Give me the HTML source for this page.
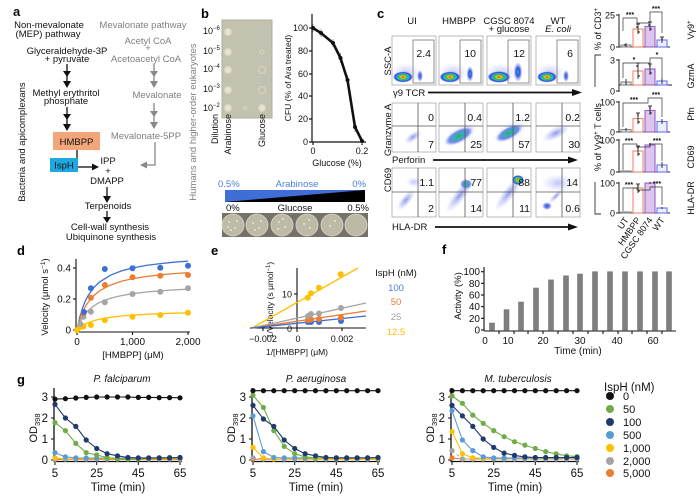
<!DOCTYPE html>
<html><head><meta charset="utf-8">
<style>
html,body{margin:0;padding:0;background:#fff;}
svg{display:block;font-family:"Liberation Sans",Arial,sans-serif;}
</style></head><body>
<svg width="700" height="504" viewBox="0 0 700 504" xmlns="http://www.w3.org/2000/svg">
<defs>
<radialGradient id="rb"><stop offset="0" stop-color="#e0221c"/><stop offset="0.2" stop-color="#f3c21d"/><stop offset="0.4" stop-color="#3fbf3f"/><stop offset="0.6" stop-color="#20b0d8"/><stop offset="0.8" stop-color="#3040d8"/><stop offset="1" stop-color="#5060e0" stop-opacity="0"/></radialGradient>
<radialGradient id="bl"><stop offset="0" stop-color="#2a50e0"/><stop offset="0.5" stop-color="#4a66e0" stop-opacity="0.8"/><stop offset="1" stop-color="#7080e8" stop-opacity="0"/></radialGradient>
<radialGradient id="bc"><stop offset="0" stop-color="#30b0d0"/><stop offset="0.4" stop-color="#3050e0"/><stop offset="1" stop-color="#7080e8" stop-opacity="0"/></radialGradient>
<radialGradient id="gb"><stop offset="0" stop-color="#38b048"/><stop offset="0.35" stop-color="#30b0c0"/><stop offset="0.7" stop-color="#4a60e0" stop-opacity="0.7"/><stop offset="1" stop-color="#8090f0" stop-opacity="0"/></radialGradient>
<radialGradient id="lb"><stop offset="0" stop-color="#6a78e0" stop-opacity="0.75"/><stop offset="1" stop-color="#a0a8f0" stop-opacity="0"/></radialGradient>
<radialGradient id="hz"><stop offset="0" stop-color="#b0b8f4" stop-opacity="0.8"/><stop offset="1" stop-color="#c8d0f8" stop-opacity="0"/></radialGradient>
<radialGradient id="spot"><stop offset="0" stop-color="#eeecd8"/><stop offset="0.7" stop-color="#dedcc6"/><stop offset="1" stop-color="#c2c1b0"/></radialGradient>
<marker id="gk" markerUnits="userSpaceOnUse" markerWidth="6" markerHeight="6" refX="3" refY="3"><circle cx="3" cy="3" r="2.6" fill="#111"/></marker>
<marker id="gg" markerUnits="userSpaceOnUse" markerWidth="6" markerHeight="6" refX="3" refY="3"><circle cx="3" cy="3" r="2.6" fill="#70ad47"/></marker>
<marker id="gn" markerUnits="userSpaceOnUse" markerWidth="6" markerHeight="6" refX="3" refY="3"><circle cx="3" cy="3" r="2.6" fill="#203a6c"/></marker>
<marker id="gl" markerUnits="userSpaceOnUse" markerWidth="6" markerHeight="6" refX="3" refY="3"><circle cx="3" cy="3" r="2.6" fill="#5b9bd5"/></marker>
<marker id="gy" markerUnits="userSpaceOnUse" markerWidth="6" markerHeight="6" refX="3" refY="3"><circle cx="3" cy="3" r="2.6" fill="#ffc000"/></marker>
<marker id="ga" markerUnits="userSpaceOnUse" markerWidth="6" markerHeight="6" refX="3" refY="3"><circle cx="3" cy="3" r="2.6" fill="#a5a5a5"/></marker>
<marker id="go" markerUnits="userSpaceOnUse" markerWidth="6" markerHeight="6" refX="3" refY="3"><circle cx="3" cy="3" r="2.6" fill="#ed7d31"/></marker>
<marker id="db" markerUnits="userSpaceOnUse" markerWidth="7" markerHeight="7" refX="3.5" refY="3.5"><circle cx="3.5" cy="3.5" r="3" fill="#3d6fd6"/></marker>
<marker id="do" markerUnits="userSpaceOnUse" markerWidth="7" markerHeight="7" refX="3.5" refY="3.5"><circle cx="3.5" cy="3.5" r="3" fill="#ed7d31"/></marker>
<marker id="da" markerUnits="userSpaceOnUse" markerWidth="7" markerHeight="7" refX="3.5" refY="3.5"><circle cx="3.5" cy="3.5" r="3" fill="#a5a5a5"/></marker>
<marker id="dy" markerUnits="userSpaceOnUse" markerWidth="7" markerHeight="7" refX="3.5" refY="3.5"><circle cx="3.5" cy="3.5" r="3" fill="#ffc000"/></marker>
<marker id="bk" markerUnits="userSpaceOnUse" markerWidth="6" markerHeight="6" refX="3" refY="3"><circle cx="3" cy="3" r="2" fill="#111"/></marker>
</defs>

<!-- ================= PANEL A ================= -->
<g font-size="9.5" text-anchor="middle" fill="#111">
<text x="13" y="16" font-size="13" font-weight="bold" text-anchor="start">a</text>
<text x="49" y="28">Non-mevalonate</text>
<text x="48" y="37">(MEP) pathway</text>
<text x="67" y="54">Glyceraldehyde-3P</text>
<text x="67" y="62">+ pyruvate</text>
<text x="66" y="96">Methyl erythritol</text>
<text x="66" y="104">phosphate</text>
<text x="108" y="164">IPP</text>
<text x="108" y="174">+</text>
<text x="107" y="184">DMAPP</text>
<text x="108" y="209">Terpenoids</text>
<text x="110" y="230">Cell-wall synthesis</text>
<text x="111" y="240">Ubiquinone synthesis</text>
<text transform="translate(25,142) rotate(-90)">Bacteria and apicomplexans</text>
</g>
<g stroke="#111" stroke-width="1.3">
<line x1="67" y1="64" x2="67" y2="86"/>
<line x1="67" y1="107" x2="67" y2="129"/>
<line x1="77" y1="150" x2="77" y2="159"/>
<line x1="78" y1="167" x2="93" y2="167"/>
<line x1="107" y1="187" x2="107" y2="201"/>
<line x1="107" y1="211" x2="107" y2="221"/>
</g>
<g fill="#111">
<polygon points="63,71 71,71 67,77"/><polygon points="63,81 71,81 67,88"/>
<polygon points="63,114 71,114 67,120"/><polygon points="63,124 71,124 67,131"/>
<polygon points="92,163.5 92,170.5 99,167"/>
<polygon points="103,196 111,196 107,203"/>
<polygon points="103,217 111,217 107,223"/>
</g>
<rect x="53" y="132" width="47" height="18" fill="#f2a67a"/>
<text x="76.5" y="145" font-size="9.5" text-anchor="middle" fill="#111">HMBPP</text>
<rect x="50" y="158" width="28" height="14" fill="#1fa8e0"/>
<text x="64" y="168.5" font-size="9.5" text-anchor="middle" fill="#111">IspH</text>
<g font-size="9.5" text-anchor="middle" fill="#808080">
<text x="143" y="28">Mevalonate pathway</text>
<text x="148" y="44">Acetyl CoA</text>
<text x="148" y="51">+</text>
<text x="146" y="62">Acetoacetyl CoA</text>
<text x="157" y="98">Mevalonate</text>
<text x="146" y="139">Mevalonate-5PP</text>
<text transform="translate(196,122) rotate(-90)">Humans and higher-order eukaryotes</text>
</g>
<g stroke="#888" stroke-width="1.3" fill="none">
<line x1="154" y1="64" x2="154" y2="86"/>
<line x1="154" y1="103" x2="154" y2="127"/>
<polyline points="155,142 155,165 146,165"/>
</g>
<g fill="#888">
<polygon points="150,71 158,71 154,77"/><polygon points="150,81 158,81 154,88"/>
<polygon points="150,111 158,111 154,117"/><polygon points="150,122 158,122 154,129"/>
<polygon points="147,161.5 147,168.5 140,165"/>
</g>

<!-- ================= PANEL B ================= -->
<text x="201" y="18" font-size="13" font-weight="bold">b</text>
<rect x="222" y="20" width="50" height="98" fill="#c3c2b1"/>
<rect x="222" y="20" width="50" height="98" fill="none" stroke="#b0af9e" stroke-width="1"/>
<g fill="url(#spot)">
<circle cx="228" cy="32" r="4.5"/><circle cx="228" cy="52" r="4.5"/><circle cx="228" cy="70" r="4.5"/><circle cx="228" cy="90" r="4.5"/><circle cx="228" cy="108" r="4.5"/>
<circle cx="262" cy="108" r="4.5"/>
</g>
<g fill="none" stroke="#dad8c4" stroke-width="1">
<circle cx="262" cy="52" r="2"/><circle cx="262" cy="70" r="3.5"/><circle cx="262" cy="90" r="3.5"/>
</g>
<circle cx="245" cy="108" r="2.5" fill="#cfcdbb"/>
<g font-size="9" fill="#111">
<text x="203" y="34">10<tspan dy="-4" font-size="6">−6</tspan></text>
<text x="203" y="54">10<tspan dy="-4" font-size="6">−5</tspan></text>
<text x="203" y="72">10<tspan dy="-4" font-size="6">−4</tspan></text>
<text x="203" y="92">10<tspan dy="-4" font-size="6">−3</tspan></text>
<text x="203" y="111">10<tspan dy="-4" font-size="6">−2</tspan></text>
<text transform="translate(218,114) rotate(-90)" text-anchor="end">Dilution</text>
<text transform="translate(231,114) rotate(-90)" text-anchor="end">Arabinose</text>
<text transform="translate(265,114) rotate(-90)" text-anchor="end">Glucose</text>
</g>
<!-- CFU chart -->
<g stroke="#111" stroke-width="1.2">
<line x1="312" y1="14" x2="312" y2="142"/>
<line x1="312" y1="142" x2="366" y2="142"/>
<line x1="309" y1="28" x2="312" y2="28"/><line x1="309" y1="51" x2="312" y2="51"/><line x1="309" y1="74" x2="312" y2="74"/><line x1="309" y1="96" x2="312" y2="96"/><line x1="309" y1="119" x2="312" y2="119"/><line x1="309" y1="142" x2="312" y2="142"/>
<line x1="313" y1="142" x2="313" y2="145"/><line x1="362" y1="142" x2="362" y2="145"/>
</g>
<g font-size="9" fill="#111" text-anchor="end">
<text x="308" y="31">100</text><text x="308" y="54">80</text><text x="308" y="77">60</text><text x="308" y="99">40</text><text x="308" y="122">20</text><text x="308" y="145">0</text>
</g>
<g font-size="9" fill="#111" text-anchor="middle">
<text x="313" y="154">0</text><text x="362" y="154">0.2</text>
<text x="337" y="166">Glucose (%)</text>
<text transform="translate(291,78) rotate(-90)" font-size="8.5">CFU (% of Ara treated)</text>
</g>
<g stroke="#888" stroke-width="0.8">
<line x1="313" y1="24" x2="313" y2="32"/><line x1="321" y1="29" x2="321" y2="37"/><line x1="333" y1="39" x2="333" y2="47"/><line x1="340.5" y1="53" x2="340.5" y2="63"/><line x1="347.5" y1="75" x2="347.5" y2="85"/><line x1="355" y1="122" x2="355" y2="132"/><line x1="362" y1="138" x2="362" y2="144"/>
</g>
<polyline points="313,28 321,33 333,43 340.5,58 347.5,80 355,127 362,141" fill="none" stroke="#111" stroke-width="2.6" marker-start="url(#bk)" marker-mid="url(#bk)" marker-end="url(#bk)"/>
<!-- gradient bar -->
<g font-size="9.5">
<text x="218" y="187" fill="#4a7de0">0.5%</text>
<text x="297" y="187" fill="#4a7de0" text-anchor="middle">Arabinose</text>
<text x="366" y="187" fill="#4a7de0" text-anchor="end">0%</text>
<text x="226" y="211" fill="#111">0%</text>
<text x="295" y="211" fill="#111" text-anchor="middle">Glucose</text>
<text x="369" y="211" fill="#111" text-anchor="end">0.5%</text>
</g>
<rect x="225" y="190" width="140" height="12" fill="#3f6fd6"/>
<polygon points="225,202 365,190 365,202" fill="#000"/>
<rect x="222" y="213" width="146" height="24" fill="#74736a"/>
<g fill="#bdbba7" stroke="#d8d6c4" stroke-width="0.8">
<circle cx="233" cy="225" r="11"/><circle cx="257" cy="225" r="11"/><circle cx="282" cy="225" r="11"/><circle cx="307" cy="225" r="11"/><circle cx="332" cy="225" r="11"/><circle cx="356" cy="225" r="11"/>
</g>
<g fill="#ebe6bf">
<circle cx="229" cy="222" r="1"/><circle cx="235" cy="228" r="1"/><circle cx="237" cy="221" r="1"/><circle cx="231" cy="230" r="1"/><circle cx="228" cy="227" r="1"/>
<circle cx="253" cy="223" r="1"/><circle cx="259" cy="228" r="1"/><circle cx="261" cy="221" r="1"/><circle cx="255" cy="230" r="1"/>
<circle cx="279" cy="222" r="1"/><circle cx="285" cy="227" r="1"/><circle cx="283" cy="219" r="1"/><circle cx="278" cy="229" r="1"/>
<circle cx="304" cy="224" r="1"/><circle cx="310" cy="228" r="1"/><circle cx="309" cy="220" r="1"/>
<circle cx="330" cy="226" r="1"/><circle cx="335" cy="221" r="1"/>
</g>

<!-- ================= PANEL C ================= -->
<text x="377" y="18" font-size="13" font-weight="bold">c</text>
<g font-size="9.5" fill="#111" text-anchor="middle">
<text x="412" y="24">UI</text>
<text x="459" y="24">HMBPP</text>
<text x="509" y="24">CGSC 8074</text>
<text x="509" y="32">+ glucose</text>
<text x="558" y="24">WT</text>
<text x="558" y="32" font-style="italic">E. coli</text>
<text transform="translate(391,61) rotate(-90)">SSC-A</text>
<text transform="translate(391,130) rotate(-90)">Granzyme A</text>
<text transform="translate(391,180) rotate(-90)">CD69</text>
<text x="393" y="96" text-anchor="start">γ9 TCR</text>
<text x="392" y="163" text-anchor="start">Perforin</text>
<text x="392" y="230" text-anchor="start">HLA-DR</text>
</g>
<g stroke="#111" stroke-width="1.8"><line x1="428" y1="92.5" x2="574" y2="92.5"/><line x1="433" y1="160" x2="570" y2="160"/><line x1="435" y1="227" x2="570" y2="227"/></g>
<g fill="#111"><polygon points="572,89 572,96 582,92.5"/><polygon points="568,156.5 568,163.5 578,160"/><polygon points="568,223.5 568,230.5 578,227"/></g>

<g stroke="#aaa" stroke-width="0.8" fill="#fff">
<rect x="392" y="36" width="44" height="49"/><rect x="439" y="36" width="44" height="49"/><rect x="487" y="36" width="44" height="49"/><rect x="536" y="36" width="44" height="49"/>
<rect x="392" y="103" width="44" height="49"/><rect x="439" y="103" width="44" height="49"/><rect x="487" y="103" width="44" height="49"/><rect x="536" y="103" width="44" height="49"/>
<rect x="392" y="168" width="44" height="49"/><rect x="439" y="168" width="44" height="49"/><rect x="487" y="168" width="44" height="49"/><rect x="536" y="168" width="44" height="49"/>
</g>
<ellipse cx="406" cy="73" rx="15" ry="10" fill="url(#hz)"/>
<ellipse cx="403" cy="77" rx="10" ry="5.5" fill="url(#rb)"/>
<ellipse cx="420" cy="76" rx="3" ry="6" fill="url(#bl)"/>
<ellipse cx="453" cy="73" rx="15" ry="10" fill="url(#hz)"/>
<ellipse cx="450" cy="77" rx="10.5" ry="5.5" fill="url(#rb)"/>
<ellipse cx="470" cy="74" rx="3.5" ry="8" fill="url(#bc)"/>
<ellipse cx="501" cy="73" rx="16" ry="10" fill="url(#hz)"/>
<ellipse cx="499" cy="77" rx="11.5" ry="5.8" fill="url(#rb)"/>
<ellipse cx="518" cy="72" rx="4.5" ry="10" fill="url(#bc)"/>
<ellipse cx="550" cy="73" rx="15" ry="10" fill="url(#hz)"/>
<ellipse cx="547" cy="77" rx="10" ry="5.5" fill="url(#rb)"/>
<ellipse cx="566" cy="76" rx="3" ry="6" fill="url(#bl)"/>
<g fill="none" stroke="#777" stroke-width="0.8">
<rect x="413" y="40" width="21" height="43"/><rect x="460" y="40" width="21" height="43"/><rect x="508" y="40" width="21" height="43"/><rect x="557" y="40" width="21" height="43"/>
</g>
<g font-size="10.5" fill="#111" text-anchor="end">
<text x="431" y="57">2.4</text><text x="476" y="57">10</text><text x="525" y="57">12</text><text x="573" y="57">6</text>
</g>
<ellipse cx="413" cy="137" rx="10" ry="4.5" transform="rotate(-35 413 137)" fill="url(#lb)"/>
<ellipse cx="460" cy="135" rx="19" ry="9" transform="rotate(-28 460 135)" fill="url(#hz)"/>
<ellipse cx="459" cy="136" rx="16" ry="6.5" transform="rotate(-28 459 136)" fill="url(#gb)"/>
<ellipse cx="510" cy="132" rx="19" ry="9" transform="rotate(-28 510 132)" fill="url(#hz)"/>
<ellipse cx="509" cy="133" rx="15" ry="6" transform="rotate(-28 509 133)" fill="url(#gb)"/>
<ellipse cx="556" cy="133" rx="15" ry="6" transform="rotate(-28 556 133)" fill="url(#lb)"/>
<g stroke="#555" stroke-width="0.8">
<line x1="418" y1="103" x2="418" y2="152"/><line x1="392" y1="126" x2="436" y2="126"/>
<line x1="465" y1="103" x2="465" y2="152"/><line x1="439" y1="126" x2="483" y2="126"/>
<line x1="513" y1="103" x2="513" y2="152"/><line x1="487" y1="126" x2="531" y2="126"/>
<line x1="562" y1="103" x2="562" y2="152"/><line x1="536" y1="126" x2="580" y2="126"/>
</g>
<g font-size="10.5" fill="#111" text-anchor="end">
<text x="434" y="121">0</text><text x="434" y="148">7</text>
<text x="482" y="121">0.4</text><text x="482" y="148">25</text>
<text x="530" y="121">1.2</text><text x="530" y="148">57</text>
<text x="580" y="121">0.2</text><text x="580" y="148">30</text>
</g>
<ellipse cx="406" cy="200" rx="13" ry="5" transform="rotate(-50 406 200)" fill="url(#lb)"/>
<ellipse cx="414" cy="182" rx="8" ry="5" fill="url(#hz)"/>
<ellipse cx="460" cy="195" rx="22" ry="6" transform="rotate(-52 460 195)" fill="url(#lb)"/>
<ellipse cx="466" cy="184" rx="6" ry="5" fill="url(#gb)"/>
<ellipse cx="509" cy="193" rx="22" ry="6" transform="rotate(-52 509 193)" fill="url(#lb)"/>
<ellipse cx="518" cy="180" rx="6" ry="5" fill="url(#rb)"/>
<ellipse cx="558" cy="183" rx="16" ry="9" fill="url(#hz)"/>
<ellipse cx="547" cy="206" rx="5" ry="4" fill="url(#bl)"/>
<ellipse cx="556" cy="196" rx="10" ry="3" transform="rotate(-45 556 196)" fill="url(#lb)"/>
<g stroke="#555" stroke-width="0.8">
<line x1="418" y1="168" x2="418" y2="217"/><line x1="392" y1="192" x2="436" y2="192"/>
<line x1="465" y1="168" x2="465" y2="217"/><line x1="439" y1="192" x2="483" y2="192"/>
<line x1="513" y1="168" x2="513" y2="217"/><line x1="487" y1="192" x2="531" y2="192"/>
<line x1="562" y1="168" x2="562" y2="217"/><line x1="536" y1="192" x2="580" y2="192"/>
</g>
<g font-size="10.5" fill="#111" text-anchor="end">
<text x="434" y="186">1.1</text><text x="434" y="212">2</text>
<text x="482" y="186">77</text><text x="482" y="212">14</text>
<text x="530" y="186">88</text><text x="530" y="212">11</text>
<text x="578" y="186">14</text><text x="580" y="212">0.6</text>
</g>

<!-- bar charts -->
<g stroke="#222" stroke-width="1">
<line x1="619" y1="14" x2="619" y2="47"/><line x1="619" y1="47" x2="670" y2="47"/><line x1="616" y1="15" x2="619" y2="15"/><line x1="616" y1="47" x2="619" y2="47"/>
<line x1="619" y1="59" x2="619" y2="92"/><line x1="619" y1="85" x2="672" y2="85"/><line x1="616" y1="60" x2="619" y2="60"/><line x1="616" y1="91" x2="619" y2="91"/>
<line x1="619" y1="101" x2="619" y2="132"/><line x1="619" y1="132" x2="670" y2="132"/><line x1="616" y1="102" x2="619" y2="102"/><line x1="616" y1="132" x2="619" y2="132"/>
<line x1="619" y1="139" x2="619" y2="172"/><line x1="619" y1="172" x2="670" y2="172"/><line x1="616" y1="140" x2="619" y2="140"/><line x1="616" y1="172" x2="619" y2="172"/>
<line x1="619" y1="182" x2="619" y2="213"/><line x1="619" y1="213" x2="670" y2="213"/><line x1="616" y1="183" x2="619" y2="183"/><line x1="616" y1="213" x2="619" y2="213"/>
</g>
<g font-size="9" fill="#111" text-anchor="end">
<text x="615" y="18.5">25</text><text x="615" y="50.5">0</text>
<text x="615" y="63.5">3</text><text x="615" y="94.5">0</text>
<text x="615" y="105.5">100</text><text x="615" y="135.5">0</text>
<text x="615" y="143.5">100</text><text x="615" y="175.5">0</text>
<text x="615" y="186.5">100</text><text x="615" y="216.5">0</text>
</g>
<g stroke-width="1.1">
<rect x="621" y="45" width="10" height="2" fill="#e4e4e4" stroke="#888"/>
<rect x="633" y="29" width="10" height="18" fill="#fff" stroke="#f4866a"/>
<rect x="645" y="26.5" width="10" height="20.5" fill="#dcc6ee" stroke="#9b62c8"/>
<rect x="657" y="40" width="10" height="7" fill="#eceefd" stroke="#6c74f0"/>
<rect x="621" y="82" width="10" height="3" fill="#e4e4e4" stroke="#888"/>
<rect x="633" y="71" width="10" height="14" fill="#fff" stroke="#f4866a"/>
<rect x="645" y="69" width="10" height="16" fill="#dcc6ee" stroke="#9b62c8"/>
<rect x="657" y="81" width="10" height="4" fill="#eceefd" stroke="#6c74f0"/>
<rect x="621" y="129.5" width="10" height="2.5" fill="#e4e4e4" stroke="#888"/>
<rect x="633" y="118.5" width="10" height="13.5" fill="#fff" stroke="#f4866a"/>
<rect x="645" y="110.5" width="10" height="21.5" fill="#dcc6ee" stroke="#9b62c8"/>
<rect x="657" y="121.5" width="10" height="10.5" fill="#eceefd" stroke="#6c74f0"/>
<rect x="621" y="171" width="10" height="1" fill="#e4e4e4" stroke="#888"/>
<rect x="633" y="151" width="10" height="21" fill="#fff" stroke="#f4866a"/>
<rect x="645" y="145" width="10" height="27" fill="#dcc6ee" stroke="#9b62c8"/>
<rect x="657" y="165" width="10" height="7" fill="#eceefd" stroke="#6c74f0"/>
<rect x="621" y="212" width="10" height="1" fill="#e4e4e4" stroke="#888"/>
<rect x="633" y="188" width="10" height="25" fill="#fff" stroke="#f4866a"/>
<rect x="645" y="183" width="10" height="30" fill="#dcc6ee" stroke="#9b62c8"/>
<rect x="657" y="208" width="10" height="5" fill="#eceefd" stroke="#6c74f0"/>
</g>
<g stroke="#222" stroke-width="0.9">
<line x1="626" y1="43" x2="626" y2="47"/><line x1="638" y1="24" x2="638" y2="34"/><line x1="650" y1="22" x2="650" y2="31"/><line x1="662" y1="37" x2="662" y2="43"/>
<line x1="636" y1="24" x2="640" y2="24"/><line x1="648" y1="22" x2="652" y2="22"/><line x1="660" y1="37" x2="664" y2="37"/>
<line x1="626" y1="79" x2="626" y2="85"/><line x1="638" y1="63" x2="638" y2="79"/><line x1="650" y1="64" x2="650" y2="75"/><line x1="662" y1="78" x2="662" y2="84"/>
<line x1="636" y1="63" x2="640" y2="63"/><line x1="648" y1="64" x2="652" y2="64"/>
<line x1="626" y1="128" x2="626" y2="131"/><line x1="638" y1="113" x2="638" y2="124"/><line x1="650" y1="106" x2="650" y2="115"/><line x1="662" y1="119" x2="662" y2="124"/>
<line x1="636" y1="113" x2="640" y2="113"/><line x1="648" y1="106" x2="652" y2="106"/>
<line x1="638" y1="146" x2="638" y2="156"/><line x1="650" y1="143" x2="650" y2="147"/><line x1="662" y1="162" x2="662" y2="168"/>
<line x1="636" y1="146" x2="640" y2="146"/>
<line x1="638" y1="184" x2="638" y2="193"/><line x1="650" y1="182" x2="650" y2="184"/><line x1="662" y1="207" x2="662" y2="209"/>
<line x1="636" y1="184" x2="640" y2="184"/>
</g>
<g fill="#333">
<circle cx="625" cy="45" r="0.9"/><circle cx="637" cy="27" r="0.9"/><circle cx="639" cy="32" r="0.9"/><circle cx="649" cy="25" r="0.9"/><circle cx="651" cy="29" r="0.9"/><circle cx="662" cy="39" r="0.9"/>
<circle cx="637" cy="66" r="0.9"/><circle cx="639" cy="76" r="0.9"/><circle cx="650" cy="66" r="0.9"/><circle cx="651" cy="73" r="0.9"/>
<circle cx="638" cy="115" r="0.9"/><circle cx="639" cy="122" r="0.9"/><circle cx="650" cy="108" r="0.9"/><circle cx="651" cy="113" r="0.9"/>
<circle cx="638" cy="148" r="0.9"/><circle cx="639" cy="154" r="0.9"/><circle cx="650" cy="144" r="0.9"/>
<circle cx="638" cy="186" r="0.9"/><circle cx="639" cy="191" r="0.9"/>
</g>
<g fill="none" stroke="#333" stroke-width="0.7">
<path d="M623,31 V18 H637 V23 H650 M650,23 V12 H662 V33"/>
<path d="M623,78 V63 H650 V58 H662 V78"/>
<path d="M623,127 V103 H648 V98 H662 V117"/>
<path d="M623,170 V144 H637 V147 H650 V144 H662 V161"/>
<path d="M623,211 V188 H637 V190 H650 V187 H662 V205"/>
</g>
<g font-size="7" font-weight="bold" fill="#111" text-anchor="middle">
<text x="630" y="17">***</text><text x="656" y="11">***</text>
<text x="634" y="62">*</text><text x="657" y="57">*</text>
<text x="634" y="102">***</text><text x="656" y="97">***</text>
<text x="629" y="143">***</text><text x="657" y="143">***</text>
<text x="629" y="187">***</text><text x="657" y="186">***</text>
</g>
<g font-size="9" fill="#111" text-anchor="middle">
<text transform="translate(694,30) rotate(-90)">Vγ9<tspan dy="-3" font-size="6">+</tspan></text>
<text transform="translate(694,76) rotate(-90)">GzmA</text>
<text transform="translate(694,114) rotate(-90)">Pfn</text>
<text transform="translate(694,157) rotate(-90)">CD69</text>
<text transform="translate(694,198) rotate(-90)">HLA-DR</text>
<text transform="translate(601,29) rotate(-90)">% of CD3<tspan dy="-3" font-size="6">+</tspan></text>
<text transform="translate(601,137) rotate(-90)">% of Vγ9<tspan dy="-3" font-size="6">+</tspan><tspan dy="3"> T cells</tspan></text>
</g>
<g fill="none" stroke="#333" stroke-width="0.9">
<path d="M601,55 H595 V87"/>
<path d="M595,182 V214 H601"/>
</g>
<g font-size="9" fill="#111" text-anchor="end">
<text transform="translate(629,220) rotate(-55)">UT</text>
<text transform="translate(641,220) rotate(-55)">HMBPP</text>
<text transform="translate(653,220) rotate(-55)">CGSC 8074</text>
<text transform="translate(665,220) rotate(-55)">WT</text>
</g>

<!-- ================= PANEL D ================= -->
<text x="17" y="255" font-size="13" font-weight="bold">d</text>
<g stroke="#111" stroke-width="1.1">
<line x1="76" y1="259" x2="76" y2="332"/><line x1="76" y1="332" x2="190" y2="332"/>
<line x1="73" y1="268" x2="76" y2="268"/><line x1="73" y1="299" x2="76" y2="299"/><line x1="73" y1="330" x2="76" y2="330"/>
<line x1="77" y1="332" x2="77" y2="335"/><line x1="132.5" y1="332" x2="132.5" y2="335"/><line x1="188" y1="332" x2="188" y2="335"/>
</g>
<g font-size="10" fill="#111">
<text x="71" y="271.5" text-anchor="end">0.4</text><text x="71" y="302.5" text-anchor="end">0.2</text><text x="71" y="333.5" text-anchor="end">0</text>
<text x="77" y="345" text-anchor="middle">0</text><text x="132.5" y="345" text-anchor="middle">1,000</text><text x="188" y="345" text-anchor="middle">2,000</text>
<text x="133" y="358" text-anchor="middle" font-size="9.5">[HMBPP] (μM)</text>
<text transform="translate(48,297) rotate(-90)" text-anchor="middle" font-size="9.5">Velocity (μmol s<tspan dy="-3" font-size="6.5">−1</tspan><tspan dy="3">)</tspan></text>
</g>
<g fill="none" stroke-width="1.3">
<polyline stroke="#3d6fd6" points="77,330 79.8,317.1 82.6,307.9 85.3,300.9 88.1,295.6 93.7,287.7 99.2,282.3 110.3,275.3 121.4,270.9 132.5,268 146.4,265.4 160.3,263.6 174.1,262.2 188,261.1"/>
<polyline stroke="#ed7d31" points="77,330 79.8,319.8 82.6,312.4 85.3,306.7 88.1,302.3 93.7,295.7 99.2,291.1 110.3,285.1 121.4,281.3 132.5,278.7 146.4,276.5 160.3,274.8 174.1,273.6 188,272.6"/>
<polyline stroke="#a5a5a5" points="77,330 79.8,323 82.6,317.8 85.3,313.8 88.1,310.6 93.7,305.9 99.2,302.6 110.3,298.3 121.4,295.6 132.5,293.7 146.4,292 160.3,290.8 174.1,289.9 188,289.2"/>
<polyline stroke="#ffc000" points="77,330 79.8,327.5 82.6,325.5 85.3,324 88.1,322.7 93.7,320.7 99.2,319.3 110.3,317.3 121.4,316 132.5,315.1 146.4,314.3 160.3,313.7 174.1,313.2 188,312.9"/>
</g>
<g fill="none" stroke="none">
<polyline points="77,330 80.5,327 83.5,326.5 90.9,325 104.8,320.3 132.5,316.7 160.3,315 188,312.7" marker-start="url(#dy)" marker-mid="url(#dy)" marker-end="url(#dy)"/>
<polyline points="80.5,324 83.5,316.7 90.9,311.7 104.8,302.3 132.5,294 160.3,291.7 188,288.3" marker-start="url(#da)" marker-mid="url(#da)" marker-end="url(#da)"/>
<polyline points="83.3,313.3 90.9,297.7 104.8,285 132.5,277.3 160.3,275.7 188,275" marker-start="url(#do)" marker-mid="url(#do)" marker-end="url(#do)"/>
<polyline points="84,312 90.9,288.3 104.8,269 132.5,268.3 160.3,267.7 188,265.7" marker-start="url(#db)" marker-mid="url(#db)" marker-end="url(#db)"/>
</g>

<!-- ================= PANEL E ================= -->
<text x="211" y="255" font-size="13" font-weight="bold">e</text>
<g stroke="#111" stroke-width="1.1">
<line x1="297" y1="268" x2="297" y2="332"/><line x1="250" y1="328" x2="366" y2="328"/>
<line x1="294" y1="294" x2="297" y2="294"/>
<line x1="263" y1="328" x2="263" y2="331"/><line x1="342" y1="328" x2="342" y2="331"/>
</g>
<g font-size="9" fill="#111">
<text x="292" y="297.5" text-anchor="end">10</text><text x="292" y="332" text-anchor="end">0</text>
<text x="263" y="342" text-anchor="middle">−0.002</text><text x="298" y="342" text-anchor="middle">0</text><text x="342" y="342" text-anchor="middle">0.002</text>
<text x="297" y="355" text-anchor="middle" font-size="8.5">1/[HMBPP] (μM)</text>
<text transform="translate(273,300) rotate(-90)" text-anchor="middle" font-size="8.5">1/Velocity (s μmol<tspan dy="-3" font-size="6">−1</tspan><tspan dy="3">)</tspan></text>
</g>
<g stroke-width="1.3">
<line x1="252" y1="328" x2="358" y2="268" stroke="#ffc000"/>
<line x1="252" y1="328" x2="366" y2="303" stroke="#a5a5a5"/>
<line x1="252" y1="328" x2="366" y2="311" stroke="#ed7d31"/>
<line x1="252" y1="328" x2="366" y2="316" stroke="#3d6fd6"/>
</g>
<g fill="none" stroke="none">
<polyline points="308,322 311,322 319,322 341,321" marker-start="url(#db)" marker-mid="url(#db)" marker-end="url(#db)"/>
<polyline points="308,320 311,319.5 319,319 341,317.5" marker-start="url(#do)" marker-mid="url(#do)" marker-end="url(#do)"/>
<polyline points="308,316 311,314 319,313.5 341,308" marker-start="url(#da)" marker-mid="url(#da)" marker-end="url(#da)"/>
<polyline points="307.7,297.7 311,293.3 319,287.7 340.7,274.3" marker-start="url(#dy)" marker-mid="url(#dy)" marker-end="url(#dy)"/>
</g>
<g font-size="9.5" text-anchor="middle">
<text x="396" y="276" fill="#111">IspH (nM)</text>
<text x="396" y="291" fill="#4a7de0">100</text>
<text x="396" y="305" fill="#ed7d31">50</text>
<text x="396" y="320" fill="#a5a5a5">25</text>
<text x="396" y="335" fill="#ffc000">12.5</text>
</g>

<!-- ================= PANEL F ================= -->
<text x="442" y="254" font-size="13" font-weight="bold">f</text>
<g fill="#7f7f7f" stroke="#6a6a6a" stroke-width="0.5">
<rect x="489.5" y="323" width="5" height="7"/>
<rect x="504" y="309.6" width="5" height="20.4"/>
<rect x="518.5" y="302" width="5" height="28"/>
<rect x="533.5" y="288" width="5" height="42"/>
<rect x="548.5" y="279.9" width="5" height="50.1"/>
<rect x="563.5" y="275.8" width="5" height="54.2"/>
<rect x="577.5" y="274" width="5" height="56"/>
<rect x="592.5" y="271.7" width="5" height="58.3"/>
<rect x="607.5" y="271.7" width="5" height="58.3"/>
<rect x="622.5" y="271.7" width="5" height="58.3"/>
<rect x="637.5" y="271.7" width="5" height="58.3"/>
<rect x="652.5" y="271.7" width="5" height="58.3"/>
<rect x="666.5" y="271.7" width="5" height="58.3"/>
</g>
<g stroke="#111" stroke-width="1.1">
<line x1="484" y1="267" x2="484" y2="331"/><line x1="484" y1="331" x2="676" y2="331"/>
<line x1="481" y1="271.7" x2="484" y2="271.7"/><line x1="481" y1="283.3" x2="484" y2="283.3"/><line x1="481" y1="295" x2="484" y2="295"/><line x1="481" y1="306.7" x2="484" y2="306.7"/><line x1="481" y1="318.3" x2="484" y2="318.3"/><line x1="481" y1="330" x2="484" y2="330"/>
<line x1="499" y1="331" x2="499" y2="334"/><line x1="514" y1="331" x2="514" y2="334"/><line x1="528" y1="331" x2="528" y2="334"/><line x1="543" y1="331" x2="543" y2="334"/><line x1="558" y1="331" x2="558" y2="334"/><line x1="573" y1="331" x2="573" y2="334"/><line x1="588" y1="331" x2="588" y2="334"/><line x1="603" y1="331" x2="603" y2="334"/><line x1="618" y1="331" x2="618" y2="334"/><line x1="632" y1="331" x2="632" y2="334"/><line x1="647" y1="331" x2="647" y2="334"/><line x1="662" y1="331" x2="662" y2="334"/>
</g>
<g font-size="10" fill="#111">
<g text-anchor="end">
<text x="480" y="275.2">100</text><text x="480" y="286.8">80</text><text x="480" y="298.5">60</text><text x="480" y="310.2">40</text><text x="480" y="321.8">20</text><text x="480" y="333.5">0</text>
</g>
<g text-anchor="middle">
<text x="485" y="344">0</text><text x="508" y="344">10</text><text x="543" y="344">20</text><text x="580" y="344">30</text><text x="617" y="344">40</text><text x="653" y="344">60</text>
<text x="578" y="354">Time (min)</text>
<text transform="translate(461,296) rotate(-90)" font-size="9.5">Activity (%)</text>
</g>
</g>

<!-- ================= PANEL G ================= -->
<text x="17" y="384" font-size="13" font-weight="bold">g</text>
<g font-size="10" font-style="italic" fill="#111" text-anchor="middle">
<text x="122" y="382">P. falciparum</text>
<text x="316" y="382">P. aeruginosa</text>
<text x="518" y="382">M. tuberculosis</text>
</g>
<g stroke="#111" stroke-width="1.3">
<line x1="54" y1="388" x2="54" y2="462"/><line x1="54" y1="461.5" x2="182" y2="461.5"/>
<line x1="252" y1="388" x2="252" y2="462"/><line x1="252" y1="461.5" x2="380" y2="461.5"/>
<line x1="451" y1="388" x2="451" y2="462"/><line x1="451" y1="461.5" x2="579" y2="461.5"/>
</g>
<g stroke="#111" stroke-width="1">
<line x1="51" y1="397" x2="54" y2="397"/><line x1="51" y1="418" x2="54" y2="418"/><line x1="51" y1="439" x2="54" y2="439"/><line x1="51" y1="460" x2="54" y2="460"/>
<line x1="55" y1="462" x2="55" y2="465"/><line x1="96.7" y1="462" x2="96.7" y2="465"/><line x1="138.3" y1="462" x2="138.3" y2="465"/><line x1="180" y1="462" x2="180" y2="465"/>
<line x1="249" y1="397" x2="252" y2="397"/><line x1="249" y1="418" x2="252" y2="418"/><line x1="249" y1="439" x2="252" y2="439"/><line x1="249" y1="460" x2="252" y2="460"/>
<line x1="253" y1="462" x2="253" y2="465"/><line x1="294.7" y1="462" x2="294.7" y2="465"/><line x1="336.3" y1="462" x2="336.3" y2="465"/><line x1="378" y1="462" x2="378" y2="465"/>
<line x1="448" y1="397" x2="451" y2="397"/><line x1="448" y1="418" x2="451" y2="418"/><line x1="448" y1="439" x2="451" y2="439"/><line x1="448" y1="460" x2="451" y2="460"/>
<line x1="452" y1="462" x2="452" y2="465"/><line x1="493.7" y1="462" x2="493.7" y2="465"/><line x1="535.3" y1="462" x2="535.3" y2="465"/><line x1="577" y1="462" x2="577" y2="465"/>
</g>
<g font-size="11.5" fill="#111">
<g text-anchor="end">
<text x="48" y="401">3</text><text x="48" y="422">2</text><text x="48" y="443">1</text><text x="48" y="464">0</text>
<text x="246" y="401">3</text><text x="246" y="422">2</text><text x="246" y="443">1</text><text x="246" y="464">0</text>
<text x="445" y="401">3</text><text x="445" y="422">2</text><text x="445" y="443">1</text><text x="445" y="464">0</text>
</g>
<g text-anchor="middle">
<text x="55" y="477">5</text><text x="96.7" y="477">25</text><text x="138.3" y="477">45</text><text x="180" y="477">65</text>
<text x="253" y="477">5</text><text x="294.7" y="477">25</text><text x="336.3" y="477">45</text><text x="378" y="477">65</text>
<text x="452" y="477">5</text><text x="493.7" y="477">25</text><text x="535.3" y="477">45</text><text x="577" y="477">65</text>
<text x="118" y="491">Time (min)</text><text x="316" y="491">Time (min)</text><text x="515" y="491">Time (min)</text>
<text transform="translate(37,428) rotate(-90)" font-size="11">OD<tspan dy="3" font-size="7.5">398</tspan></text>
<text transform="translate(235,428) rotate(-90)" font-size="11">OD<tspan dy="3" font-size="7.5">398</tspan></text>
<text transform="translate(434,428) rotate(-90)" font-size="11">OD<tspan dy="3" font-size="7.5">398</tspan></text>
</g>
</g>

<g fill="none" stroke-width="1.1">
<polyline stroke="#ed7d31" points="55,459.4 180,459.4" marker-start="url(#go)" marker-end="url(#go)"/>
<polyline stroke="#a5a5a5" stroke-dasharray="3 3" points="55,459 65.4,459 75.8,459 86.2,459 96.7,459 107.1,459 117.5,459 127.9,459 138.3,459 148.7,459 159.2,459 169.6,459 180,459" marker-start="url(#ga)" marker-mid="url(#ga)" marker-end="url(#ga)"/>
<polyline stroke="#ffc000" points="55,457.9 65.4,459 75.8,459 180,459" marker-start="url(#gy)"/>
<polyline stroke="#5b9bd5" points="55,452.7 65.4,456.9 75.8,457.9 86.2,458 96.7,458 107.1,458 117.5,458 127.9,458 138.3,458 148.7,458 159.2,458 169.6,458 180,458" marker-start="url(#gl)" marker-mid="url(#gl)" marker-end="url(#gl)"/>
<polyline stroke="#70ad47" points="55,422.6 65.4,430.6 75.8,443.4 86.2,452.7 96.7,455 107.1,457.5 117.5,459 127.9,459 138.3,458.7 148.7,458.3 159.2,457.9 169.6,457.5 180,457.5" marker-start="url(#gg)" marker-mid="url(#gg)" marker-end="url(#gg)"/>
<polyline stroke="#203a6c" points="55,404.4 65.4,418 75.8,426.4 86.2,440 96.7,448.5 107.1,453.7 117.5,455.8 127.9,457.5 138.3,457.9 148.7,457.9 159.2,457.9 169.6,457.9 180,457.5" marker-start="url(#gn)" marker-mid="url(#gn)" marker-end="url(#gn)"/>
<polyline stroke="#111" points="55,399.1 65.4,398.7 75.8,398 86.2,397.4 96.7,397 107.1,397 117.5,397 127.9,397 138.3,397.4 148.7,397.4 159.2,397.6 169.6,397.6 180,397.8" marker-start="url(#gk)" marker-mid="url(#gk)" marker-end="url(#gk)"/>
</g>
<g fill="none" stroke-width="1.1">
<polyline stroke="#ed7d31" points="253,459.2 378,459.2" marker-start="url(#go)" marker-end="url(#go)"/>
<polyline stroke="#a5a5a5" stroke-dasharray="3 3" points="253,457.9 263.4,459 273.8,459 284.2,459 294.7,459 305.1,459 315.5,459 325.9,459 336.3,459 346.7,459 357.2,459 367.6,459 378,459" marker-start="url(#ga)" marker-mid="url(#ga)" marker-end="url(#ga)"/>
<polyline stroke="#ffc000" points="253,447.4 263.4,457.9 273.8,459 378,459" marker-start="url(#gy)" marker-mid="url(#gy)"/>
<polyline stroke="#5b9bd5" points="253,415.9 263.4,451.6 273.8,457.5 284.2,457.9 294.7,457.9 305.1,457.9 315.5,457.9 325.9,457.9 336.3,457.9 346.7,457.9 357.2,457.9 367.6,457.9 378,457.9" marker-start="url(#gl)" marker-mid="url(#gl)" marker-end="url(#gl)"/>
<polyline stroke="#70ad47" points="253,395.3 263.4,407.5 273.8,430.6 284.2,446.4 294.7,453.7 305.1,456.9 315.5,457.9 325.9,457.9 336.3,457.9 346.7,457.9 357.2,457.9 367.6,457.9 378,457.9" marker-start="url(#gg)" marker-mid="url(#gg)" marker-end="url(#gg)"/>
<polyline stroke="#203a6c" points="253,405.4 263.4,419 273.8,426.4 284.2,440 294.7,448.5 305.1,453.7 315.5,455.8 325.9,457.5 336.3,457.9 346.7,457.9 357.2,457.9 367.6,457.9 378,457.5" marker-start="url(#gn)" marker-mid="url(#gn)" marker-end="url(#gn)"/>
<polyline stroke="#111" points="253,390.7 263.4,390.7 273.8,390.7 284.2,390.7 294.7,390.7 305.1,390.7 315.5,390.7 325.9,390.7 336.3,390.7 346.7,390.7 357.2,390.7 367.6,390.7 378,390.7" marker-start="url(#gk)" marker-mid="url(#gk)" marker-end="url(#gk)"/>
</g>
<g fill="none" stroke-width="1.1">
<polyline stroke="#ed7d31" points="452,457.9 462.4,459 577,459" marker-start="url(#go)" marker-mid="url(#go)"/>
<polyline stroke="#a5a5a5" stroke-dasharray="3 3" points="452,450.6 462.4,459 472.8,459 483.2,459 493.7,459 504.1,459 514.5,459 524.9,459 535.3,459 545.7,459 556.2,459 566.6,459 577,459" marker-start="url(#ga)" marker-mid="url(#ga)" marker-end="url(#ga)"/>
<polyline stroke="#ffc000" points="452,431.7 462.4,453.7 472.8,457.9 483.2,458.3 577,458.3" marker-start="url(#gy)" marker-mid="url(#gy)"/>
<polyline stroke="#5b9bd5" points="452,410.7 462.4,440 472.8,450.6 483.2,456.9 493.7,457.9 504.1,457.9 514.5,457.9 524.9,457.9 535.3,457.9 545.7,457.9 556.2,457.9 566.6,457.9 577,457.9" marker-start="url(#gl)" marker-mid="url(#gl)" marker-end="url(#gl)"/>
<polyline stroke="#70ad47" points="452,396 462.4,403.3 472.8,415.1 483.2,423.3 493.7,430.6 504.1,436.7 514.5,441.7 524.9,445.1 535.3,448.5 545.7,451.6 556.2,453.9 566.6,455.8 577,456.6" marker-start="url(#gg)" marker-mid="url(#gg)" marker-end="url(#gg)"/>
<polyline stroke="#203a6c" points="452,405.4 462.4,415.9 472.8,426.4 483.2,439 493.7,447.4 504.1,453.1 514.5,455.4 524.9,456.9 535.3,457.5 545.7,457.5 556.2,457.5 566.6,457.5 577,457.5" marker-start="url(#gn)" marker-mid="url(#gn)" marker-end="url(#gn)"/>
<polyline stroke="#111" points="452,390.7 462.4,390.7 472.8,390.7 483.2,390.7 493.7,390.7 504.1,390.7 514.5,390.7 524.9,390.7 535.3,390.7 545.7,390.7 556.2,390.7 566.6,390.7 577,390.7" marker-start="url(#gk)" marker-mid="url(#gk)" marker-end="url(#gk)"/>
</g>
<text x="604" y="391" font-size="11.5" fill="#111">IspH (nM)</text>
<g>
<circle cx="610" cy="396" r="4" fill="#111"/>
<circle cx="610" cy="409" r="4" fill="#70ad47"/>
<circle cx="610" cy="422" r="4" fill="#203a6c"/>
<circle cx="610" cy="435" r="4" fill="#5b9bd5"/>
<circle cx="610" cy="448" r="4" fill="#ffc000"/>
<circle cx="610" cy="461" r="4" fill="#a5a5a5"/>
<circle cx="610" cy="473" r="4" fill="#ed7d31"/>
</g>
<g font-size="11" fill="#111">
<text x="623" y="400">0</text>
<text x="623" y="413">50</text>
<text x="623" y="426">100</text>
<text x="623" y="439">500</text>
<text x="623" y="452">1,000</text>
<text x="623" y="465">2,000</text>
<text x="623" y="477">5,000</text>
</g>
</svg>
</body></html>
